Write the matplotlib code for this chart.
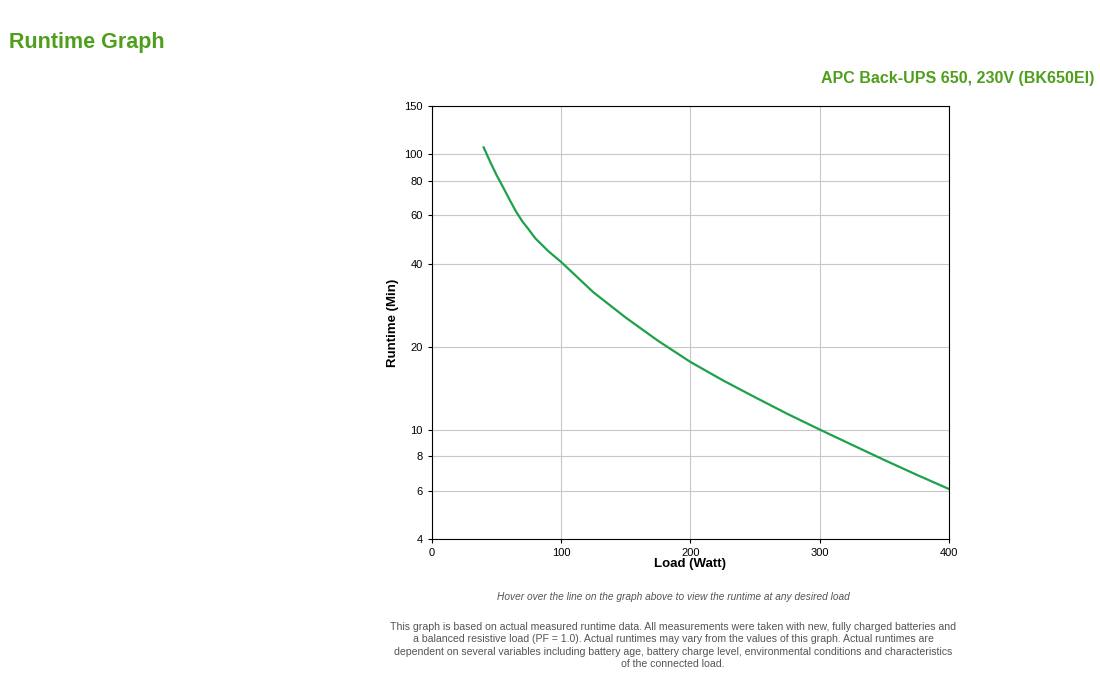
import matplotlib
matplotlib.use("Agg")
import matplotlib.pyplot as plt
from matplotlib.ticker import FixedLocator, NullLocator

plt.rcParams["font.family"] = "Liberation Sans"

load_w = [40, 45, 50, 55, 60, 65, 70, 75, 80, 90, 100, 125, 150, 175, 200,
          225, 250, 275, 300, 325, 350, 375, 400]
runtime_min = [106, 94, 84, 76, 68.5, 62, 57, 53.2, 49.5, 44.5, 40.6, 31.5, 25.5,
               21, 17.6, 15.1, 13.1, 11.4, 10.0, 8.8, 7.75, 6.85, 6.08]
y_ticks = [4, 6, 8, 10, 20, 40, 60, 80, 100, 150]
x_ticks = [0, 100, 200, 300, 400]

green = "#4f9f1c"
fig = plt.figure(figsize=(11, 6.92), dpi=100)
fig.text(0.008, 0.93, "Runtime Graph", fontsize=15.5, fontweight="bold", color=green)
fig.text(0.995, 0.88, "APC Back-UPS 650, 230V (BK650EI)", fontsize=11.5, fontweight="bold",
         color=green, ha="right")

ax = fig.add_axes([0.3927, 0.221, 0.47, 0.626])
ax.plot(load_w, runtime_min, color="#1da14a", lw=1.6)
ax.set_yscale("log")
ax.set_xlim(0, 400)
ax.set_ylim(4, 150)
ax.yaxis.set_major_locator(FixedLocator(y_ticks))
ax.yaxis.set_minor_locator(NullLocator())
ax.set_yticklabels([str(t) for t in y_ticks])
ax.set_xticks(x_ticks)
ax.grid(True, color="#c8c8c8", lw=0.8)
ax.tick_params(labelsize=8, length=3, width=0.8)
for s in ax.spines.values():
    s.set_linewidth(0.8)
ax.set_xlabel("Load (Watt)", fontsize=9.5, fontweight="bold", labelpad=0)
ax.set_ylabel("Runtime (Min)", fontsize=9.5, fontweight="bold", labelpad=4)

fig.text(0.612, 0.133, "Hover over the line on the graph above to view the runtime at any desired load",
         fontsize=7.3, style="italic", color="#555555", ha="center")
fig.text(0.612, 0.036,
         "This graph is based on actual measured runtime data. All measurements were taken with new, fully charged batteries and\n"
         "a balanced resistive load (PF = 1.0). Actual runtimes may vary from the values of this graph. Actual runtimes are\n"
         "dependent on several variables including battery age, battery charge level, environmental conditions and characteristics\n"
         "of the connected load.",
         fontsize=7.6, color="#555555", ha="center", linespacing=1.3)

fig.savefig("out.png", dpi=100)
